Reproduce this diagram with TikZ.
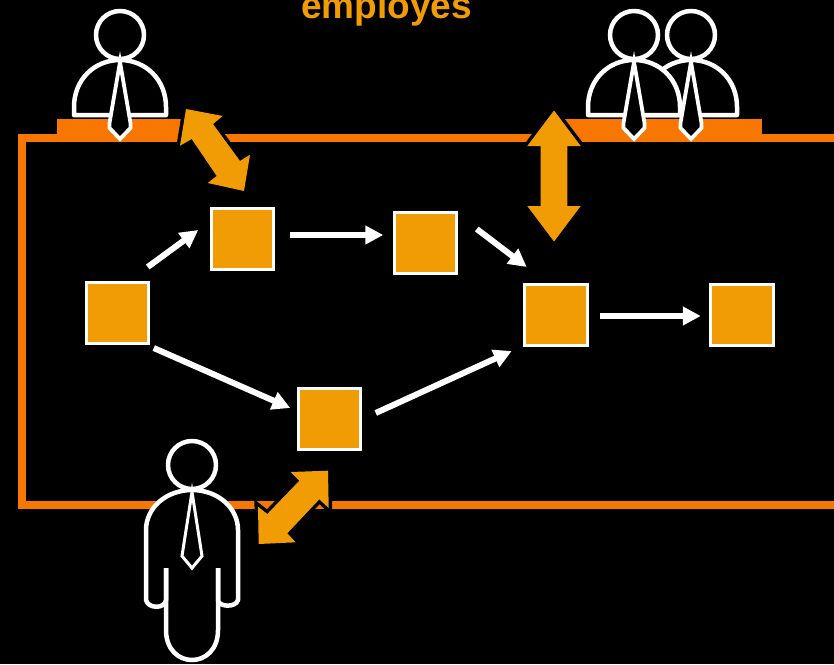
\documentclass[tikz,border=0pt]{standalone}
\usepackage{fontspec}
\setmainfont{Liberation Sans}
\usetikzlibrary{arrows.meta,calc}
\definecolor{frameor}{HTML}{F77700}
\definecolor{boxor}{HTML}{F29C05}
\tikzset{
  x=1pt,y=-1pt,
  procbox/.style={draw=white,line width=3pt,fill=boxor,minimum width=62.5pt,minimum height=61pt,inner sep=0pt,outer sep=0pt},
  flow/.style={draw=white,line width=6pt,-{Triangle[length=18pt,width=18pt]}},
  frameline/.style={draw=frameor,line width=8pt,line cap=butt,miter limit=10},
  deskbar/.style={fill=frameor},
  bigarrow/.style={fill=boxor,draw=black,line width=7pt,line join=miter,miter limit=10},
  bigarrowtop/.style={fill=boxor},
  figline/.style={draw=white,line width=4.5pt,fill=black,line join=round},
  tieline/.style={draw=white,line width=3.8pt,fill=black,line join=miter},
}
\newcommand{\seated}[1]{%
  \begin{scope}[shift={(#1,0)}]
    \draw[figline] (0,35) circle[radius=24];
    \draw[figline] (-46,115) -- (46,115) -- (46,107) .. controls (46,80) and (26,60) .. (0,60) .. controls (-26,60) and (-46,80) .. (-46,107) -- cycle;
    \draw[tieline] (0,62) -- (-10.5,123) -- (-10.5,128) -- (0,139) -- (10.5,128) -- (10.5,123) -- cycle;
  \end{scope}}
\begin{document}
\begin{tikzpicture}
\useasboundingbox (0,0) rectangle (834,664);
\clip (0,0) rectangle (834,664);
\fill[black] (0,0) rectangle (834,664);
\node[anchor=base,text=boxor,font=\bfseries\fontsize{37}{37}\selectfont,inner sep=0pt] (title) at (386.5,18) {employes};
% frame and desks
\draw[frameline] (834,138) -- (22,138) -- (22,505) -- (834,505);
\fill[deskbar] (57,119) rectangle (182,142);
\fill[deskbar] (560,119) rectangle (762,142);
% double arrows
\foreach \st in {bigarrow,bigarrowtop}{
  \path[\st] (186,109) -- (222.7,116) -- (213,124) -- (240,161) -- (250,154.7) -- (244,191) -- (207.7,183) -- (216.7,176) -- (191.7,139) -- (180,145.7) -- cycle;
  \path[\st] (554,110.5) -- (580.7,146) -- (567.3,146) -- (567.3,206) -- (580.7,206) -- (554,241.5) -- (527.3,206) -- (540.7,206) -- (540.7,146) -- (527.3,146) -- cycle;
  \path[\st] (328,470.7) -- (328.7,508) -- (319.3,499.3) -- (287.3,533.3) -- (295.7,542.3) -- (258.7,544) -- (258,506.7) -- (267.3,514) -- (299.3,480.7) -- (290.7,472) -- cycle;
}
% boxes
\node[procbox] (A) at (117.5,312.5) {};
\node[procbox] (B) at (242.5,238.5) {};
\node[procbox] (C) at (425.5,242.5) {};
\node[procbox] (D) at (556,314.5) {};
\node[procbox] (E) at (742,314.5) {};
\node[procbox] (F) at (329.5,418.5) {};
% connectors
\draw[flow] ([shift={(-1,-15)}]A.north east) -- ([shift={(-13,-8.5)}]B.west);
\draw[flow] ([shift={(16,-3.5)}]B.east) -- ([shift={(-11,-7.5)}]C.west);
\draw[flow] ([shift={(20,-13.5)}]C.east) -- ([shift={(2,-17)}]D.north west);
\draw[flow] ([shift={(13,1.5)}]D.east) -- ([shift={(-10,1.5)}]E.west);
\draw[flow] ([shift={(5,5)}]A.south east) -- ([shift={(-8,-10.5)}]F.west);
\draw[flow] ([shift={(15,-5.5)}]F.east) -- ([shift={(-13,6)}]D.south west);
% people
\seated{691}
\seated{634}
\seated{120}
\begin{scope}[shift={(192,0)}]
  \draw[figline] (0,465) circle[radius=24];
  \draw[figline] (26,568) -- (26,600) .. controls (26,607) and (44,608) .. (46,600) -- (46,530) .. controls (46,508) and (26,490) .. (0,490) .. controls (-26,490) and (-46,508) .. (-46,530) -- (-46,600) .. controls (-44,609) and (-27,609) .. (-26,600) -- (-26,568);
  \draw[draw=white,line width=4.5pt,line join=round] (-26,568) -- (-26,630) .. controls (-26,670) and (26,670) .. (26,630) -- (26,568);
  \draw[tieline,line width=3pt] (0,492) -- (-10,556) -- (0,568) -- (10,556) -- cycle;
\end{scope}
\end{tikzpicture}
\end{document}
